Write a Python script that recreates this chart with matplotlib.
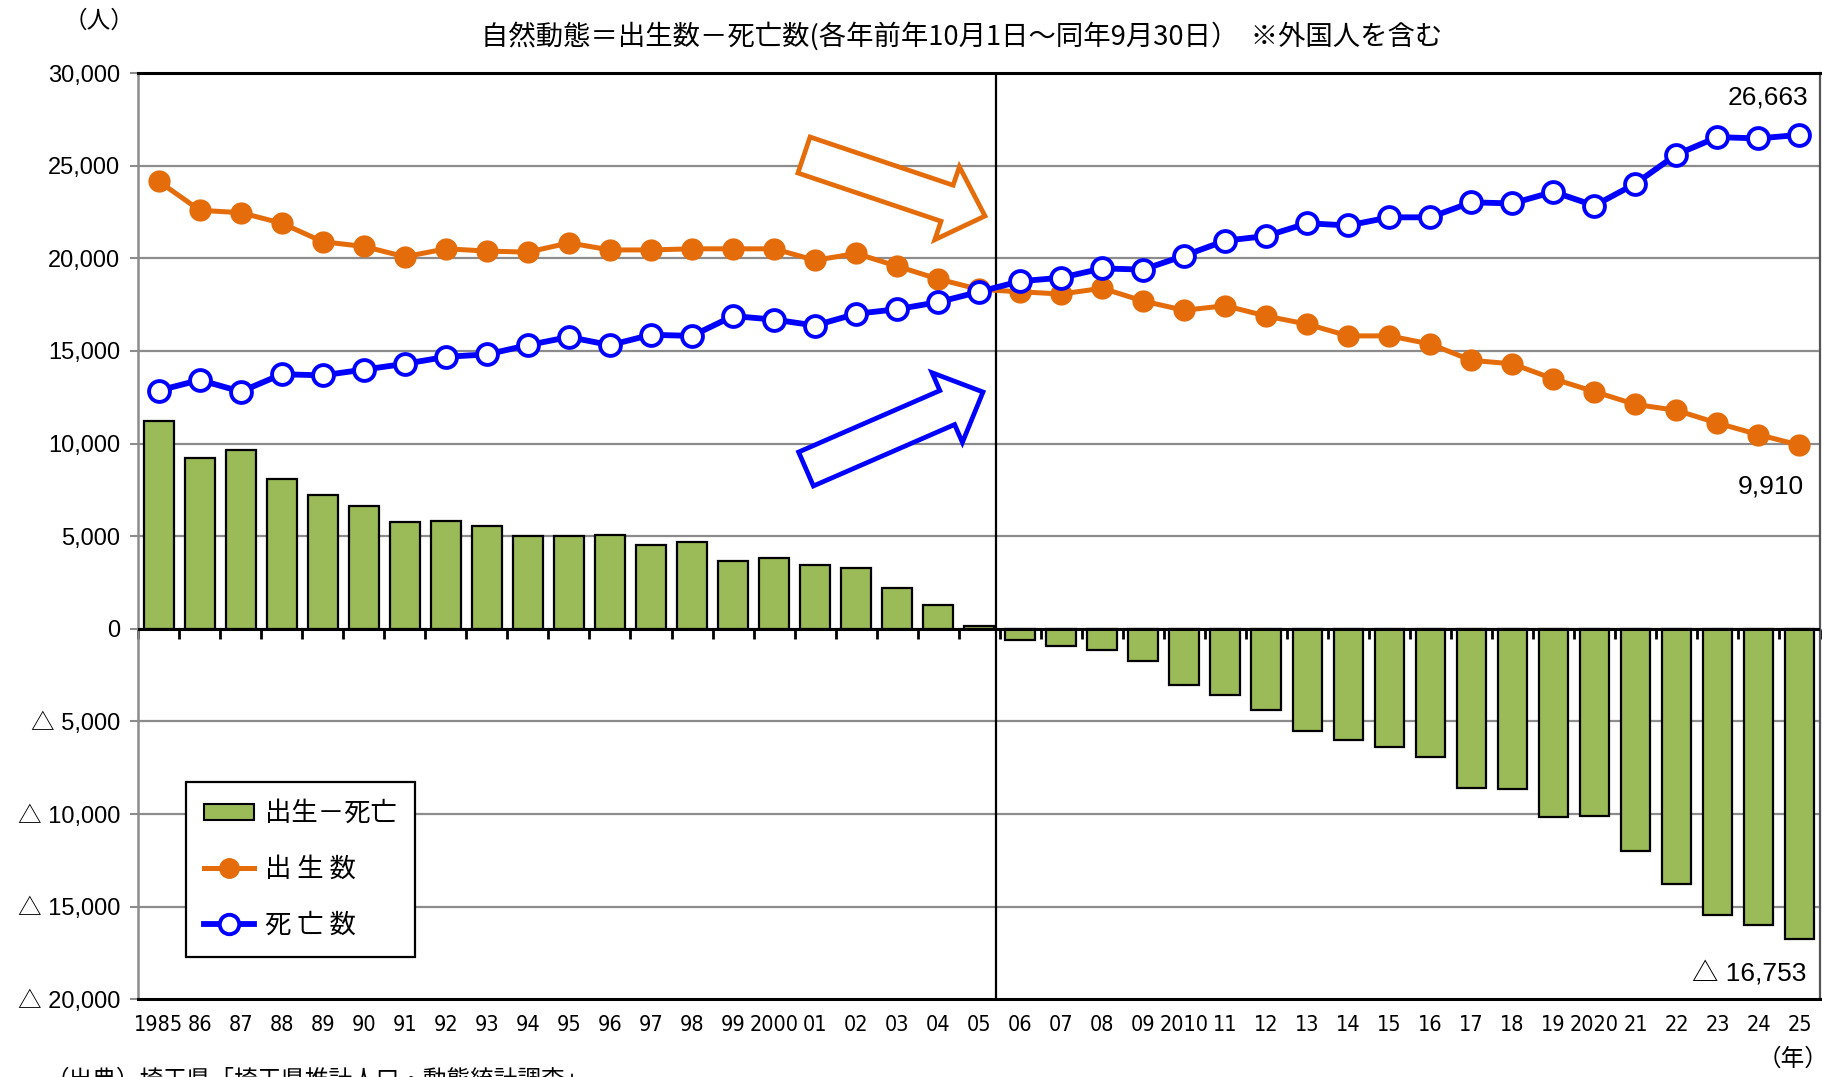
import numpy as np
import matplotlib
matplotlib.use("Agg")
import matplotlib.pyplot as plt
import matplotlib.patches as mpatches
from matplotlib.lines import Line2D
from matplotlib.transforms import IdentityTransform
from matplotlib import font_manager as fm

plt.rcParams['font.family'] = ['Noto Sans CJK JP', 'DejaVu Sans']

# ---------------- data ----------------
years = list(range(1985, 2026))
xlabels = ['1985', '86', '87', '88', '89', '90', '91', '92', '93', '94', '95', '96', '97', '98', '99',
           '2000', '01', '02', '03', '04', '05', '06', '07', '08', '09', '2010', '11', '12', '13', '14',
           '15', '16', '17', '18', '19', '2020', '21', '22', '23', '24', '25']
births = [24150, 22590, 22460, 21890, 20890, 20640, 20080, 20510, 20390, 20330, 20830, 20450, 20450,
          20510, 20510, 20510, 19890, 20260, 19570, 18880, 18320, 18190, 18070, 18380, 17690, 17190,
          17440, 16880, 16440, 15810, 15810, 15370, 14490, 14300, 13490, 12800, 12110, 11790, 11100,
          10480, 9910]
deaths = [12860, 13430, 12800, 13740, 13680, 13990, 14300, 14680, 14810, 15310, 15750, 15310, 15870,
          15810, 16880, 16690, 16370, 17000, 17250, 17630, 18190, 18760, 18950, 19450, 19390, 20140,
          20950, 21200, 21890, 21770, 22210, 22210, 23020, 22960, 23590, 22840, 24030, 25600, 26540,
          26470, 26663]
natural = [11230, 9220, 9660, 8090, 7220, 6650, 5770, 5830, 5520, 5020, 5020, 5080, 4520, 4700, 3640,
           3830, 3450, 3260, 2200, 1260, 130, -630, -940, -1130, -1760, -3010, -3580, -4390, -5520,
           -6020, -6400, -6900, -8600, -8660, -10160, -10100, -11980, -13800, -15430, -16000, -16753]
yticks = [30000, 25000, 20000, 15000, 10000, 5000, 0, -5000, -10000, -15000, -20000]
yticklabels = ['30,000', '25,000', '20,000', '15,000', '10,000', '5,000', '0',
               '△ 5,000', '△ 10,000', '△ 15,000', '△ 20,000']

title = '自然動態＝出生数－死亡数(各年前年10月1日～同年9月30日）  ※外国人を含む'
legend_labels = ['出生－死亡', '出 生 数', '死 亡 数']

BAR_C = '#9BBB59'
ORANGE = '#E46C0A'
BLUE = '#0000FF'

# pick a condensed font for x tick labels if one is installed
_fonts = [(f.name, str(f.stretch)) for f in fm.fontManager.ttflist]
_fam_names = {n for n, s in _fonts}
xt_kw = dict(family=['Liberation Sans', 'DejaVu Sans'], fontsize=14.5)
if 'Liberation Sans Narrow' in _fam_names:
    xt_kw = dict(family=['Liberation Sans Narrow', 'DejaVu Sans'], fontsize=17)
elif any(n == 'DejaVu Sans' and s == 'condensed' for n, s in _fonts):
    xt_kw = dict(family=['DejaVu Sans'], fontstretch='condensed', fontsize=15.5)

LAT = ['Liberation Sans', 'Noto Sans CJK JP', 'DejaVu Sans']

# ---------------- figure ----------------
W, H = 1822, 1077
fig = plt.figure(figsize=(W / 100, H / 100), dpi=100)
ax = fig.add_axes([0.0759, 0.0722, 0.923, 0.860])

x = np.arange(len(years))
ax.set_xlim(-0.5, len(years) - 0.5)
ax.set_ylim(-20000, 30000)

# grid
for yv in yticks[1:-1]:
    ax.axhline(yv, color='#8c8c8c', lw=1.6, zorder=0)

ax.bar(x, natural, width=0.72, color=BAR_C, edgecolor='black', linewidth=1.6, zorder=2)
ax.axhline(0, color='black', lw=2.2, zorder=3)
ax.axvline(20.4, color='black', lw=1.6, zorder=1)

ax.plot(x, births, color=ORANGE, lw=3.6, marker='o', ms=15, mfc=ORANGE, mec=ORANGE, zorder=4)
ax.plot(x, deaths, color=BLUE, lw=4.2, marker='o', ms=15, mfc='white', mec=BLUE, mew=2.8, zorder=5)

# spines
ax.spines['top'].set_color('black'); ax.spines['top'].set_linewidth(2.2)
ax.spines['bottom'].set_color('black'); ax.spines['bottom'].set_linewidth(2.2)
ax.spines['left'].set_color('#8c8c8c'); ax.spines['left'].set_linewidth(1.8)
ax.spines['right'].set_color('#555555'); ax.spines['right'].set_linewidth(1.6)

# y ticks
ax.set_yticks(yticks)
ax.set_yticklabels(yticklabels, family=LAT, fontsize=17)
ax.tick_params(axis='y', direction='out', length=6, width=1.5, color='#8c8c8c', pad=7)

# x labels at bottom
ax.set_xticks(x)
ax.set_xticklabels(xlabels, **xt_kw)
ax.tick_params(axis='x', length=0, pad=11)

# ticks on the zero line at category boundaries
sec = ax.secondary_xaxis(0.4)
sec.set_xticks(np.arange(-0.5, len(years), 1.0))
sec.set_xticklabels([])
sec.tick_params(axis='x', direction='out', length=7, width=2, color='black')
sec.spines['bottom'].set_visible(False)

# value annotations
ax.annotate('26,663', xy=(x[-1], deaths[-1]), xytext=(9, 37), textcoords='offset pixels',
            ha='right', va='center', fontsize=19, family=LAT)
ax.annotate('9,910', xy=(x[-1], births[-1]), xytext=(4, -41), textcoords='offset pixels',
            ha='right', va='center', fontsize=19, family=LAT)
ax.annotate('△ 16,753', xy=(x[-1], natural[-1]), xytext=(7, -35), textcoords='offset pixels',
            ha='right', va='center', fontsize=19, family=LAT)

# texts
fig.text(0.528, 0.9666, title, ha='center', va='center', fontsize=19.7)
fig.text(0.0543, 0.9805, '（人）', ha='center', va='center', fontsize=17)
fig.text(0.984, 0.0165, '（年）', ha='center', va='center', fontsize=17)
fig.text(0.025, 0.0075, '（出典）埼玉県「埼玉県推計人口・動態統計調査」', ha='left', va='top', fontsize=17)

# decorative trend arrows (pixel coordinates, origin bottom-left)
arr_o = mpatches.FancyArrow(804, H - 155, 181, -61, width=38, head_width=77, head_length=40,
                            length_includes_head=True, transform=IdentityTransform(),
                            facecolor='white', edgecolor=ORANGE, linewidth=3.4, zorder=6)
arr_b = mpatches.FancyArrow(806, H - 469, 177, 77, width=37, head_width=76, head_length=39,
                            length_includes_head=True, transform=IdentityTransform(),
                            facecolor='white', edgecolor=BLUE, linewidth=3.4, zorder=6)
fig.add_artist(arr_o)
fig.add_artist(arr_b)

# legend
handles = [mpatches.Patch(facecolor=BAR_C, edgecolor='black', linewidth=1.5),
           Line2D([], [], color=ORANGE, lw=3.6, marker='o', ms=14, mfc=ORANGE, mec=ORANGE),
           Line2D([], [], color=BLUE, lw=4.2, marker='o', ms=14, mfc='white', mec=BLUE, mew=2.8)]
leg = ax.legend(handles, legend_labels, loc='lower left', bbox_to_anchor=(0.0284, 0.0457),
                borderaxespad=0, fancybox=False, edgecolor='black', framealpha=1,
                fontsize=19, handlelength=1.9, handleheight=0.55, handletextpad=0.4,
                labelspacing=1.1, borderpad=0.68)
leg.get_frame().set_linewidth(1.6)
leg.set_zorder(7)

fig.savefig('out.png', dpi=100)
